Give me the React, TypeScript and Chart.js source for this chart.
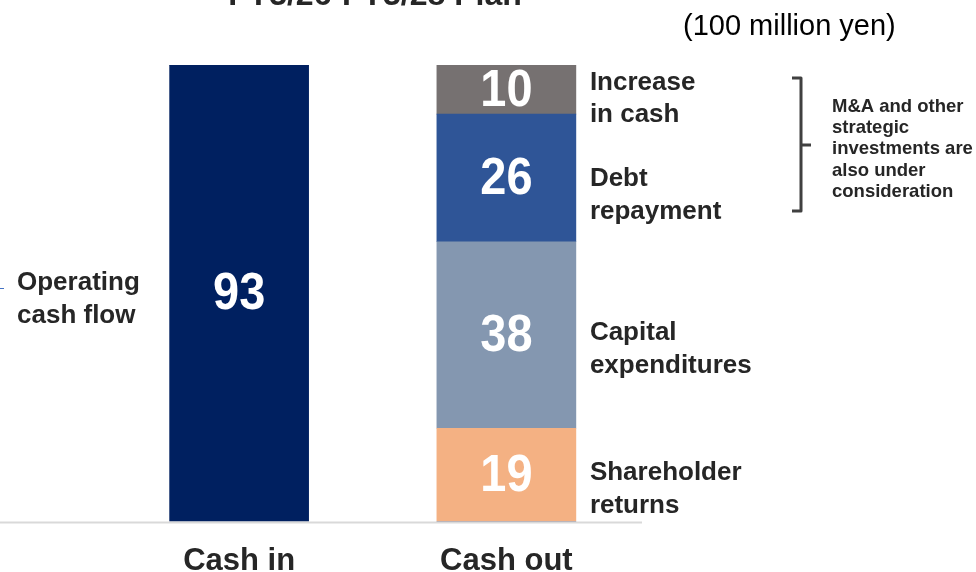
import React, { useEffect, useRef } from "react";
import { Chart, registerables } from "chart.js";

Chart.register(...registerables);

const categories = ["Cash in", "Cash out"];
const operatingCashFlow = [93, 0];
const shareholderReturns = [0, 19];
const capitalExpenditures = [0, 38];
const debtRepayment = [0, 26];
const increaseInCash = [0, 10];

const seriesNames = ["Operating cash flow", "Shareholder returns", "Capital expenditures", "Debt repayment", "Increase in cash"];
const segmentLabelLines = [
  ["Operating", "cash flow"],
  ["Shareholder", "returns"],
  ["Capital", "expenditures"],
  ["Debt", "repayment"],
  ["Increase", "in cash"],
];
const titleText = "FY3/26-FY3/28 Plan";
const unitText = "(100 million yen)";
const noteLines = ["M&A and other", "strategic", "investments are", "also under", "consideration"];

const COLORS = ["#002060", "#f4b183", "#8497b0", "#2f5597", "#767171"];
const TEXT = "#262626";
const LABEL_OFFSETS = [6, 14, 14, 17, 9];

const overlayPlugin = {
  id: "overlay",
  afterDatasetsDraw(chart: any) {
    const ctx = chart.ctx as CanvasRenderingContext2D;
    const ys = chart.scales.y;
    const y0 = ys.getPixelForValue(0);
    ctx.save();
    // baseline
    ctx.strokeStyle = "#d9d9d9";
    ctx.lineWidth = 2;
    ctx.beginPath();
    ctx.moveTo(0, y0 + 1);
    ctx.lineTo(642, y0 + 1);
    ctx.stroke();

    // small arrow remnant
    ctx.strokeStyle = "#4472c4";
    ctx.lineWidth = 1;
    ctx.beginPath();
    ctx.moveTo(0, 288.5);
    ctx.lineTo(4, 288.5);
    ctx.stroke();

    chart.data.datasets.forEach((ds: any, di: number) => {
      const meta = chart.getDatasetMeta(di);
      ds.data.forEach((v: number, i: number) => {
        if (!v) return;
        const bar = meta.data[i] as any;
        const cy = (bar.y + bar.base) / 2;
        // value label
        ctx.save();
        ctx.fillStyle = "#ffffff";
        ctx.font = "bold 51px 'Liberation Sans', Arial, sans-serif";
        ctx.textAlign = "center";
        ctx.textBaseline = "middle";
        ctx.translate(bar.x, cy + 2);
        ctx.scale(0.92, 1);
        ctx.fillText(String(v), 0, 0);
        ctx.restore();
        // segment label
        const lines = segmentLabelLines[di];
        ctx.fillStyle = TEXT;
        ctx.font = "bold 26px 'Liberation Sans', Arial, sans-serif";
        ctx.textBaseline = "middle";
        ctx.textAlign = "left";
        const ly = cy + LABEL_OFFSETS[di];
        const lx = di === 0 ? 17 : bar.x + bar.width / 2 + 14;
        lines.forEach((t, k) => ctx.fillText(t, lx, ly - 16 + k * 32.5));
      });
    });

    // title (cut at top)
    ctx.fillStyle = TEXT;
    ctx.font = "bold 32px 'Liberation Sans', Arial, sans-serif";
    ctx.textAlign = "center";
    ctx.textBaseline = "alphabetic";
    ctx.fillText(titleText, 375, 5);

    // unit
    ctx.fillStyle = "#000000";
    ctx.font = "29px 'Liberation Sans', Arial, sans-serif";
    ctx.textAlign = "left";
    ctx.textBaseline = "middle";
    ctx.fillText(unitText, 683, 27);

    // bracket
    ctx.strokeStyle = "#404040";
    ctx.lineWidth = 3;
    ctx.lineJoin = "round";
    ctx.beginPath();
    ctx.moveTo(792, 78);
    ctx.lineTo(801, 78);
    ctx.lineTo(801, 211);
    ctx.lineTo(792, 211);
    ctx.moveTo(801, 145);
    ctx.lineTo(811, 145);
    ctx.stroke();

    // note
    ctx.fillStyle = TEXT;
    ctx.font = "bold 18.5px 'Liberation Sans', Arial, sans-serif";
    ctx.textAlign = "left";
    ctx.textBaseline = "middle";
    noteLines.forEach((t, k) => ctx.fillText(t, 832, 107 + k * 21.2));
    ctx.restore();
  },
};

export default function App() {
  const ref = useRef<HTMLCanvasElement>(null);
  useEffect(() => {
    if (!ref.current) return;
    const seriesValues = [operatingCashFlow, shareholderReturns, capitalExpenditures, debtRepayment, increaseInCash];
    const chart = new Chart(ref.current, {
      type: "bar",
      data: {
        labels: categories,
        datasets: seriesValues.map((vals, i) => ({
          label: seriesNames[i],
          data: vals,
          backgroundColor: COLORS[i],
          borderWidth: 0,
          barThickness: 139,
        })),
      },
      options: {
        animation: false,
        responsive: false,
        maintainAspectRatio: false,
        layout: { padding: { top: 65, left: 105.5, right: 336, bottom: -29 } },
        plugins: { legend: { display: false }, tooltip: { enabled: false }, title: { display: false } },
        scales: {
          x: {
            stacked: true,
            grid: { display: false, drawTicks: false },
            border: { display: false },
            ticks: {
              color: TEXT,
              padding: 25,
              font: { family: "'Liberation Sans', Arial, sans-serif", size: 31, weight: "bold", lineHeight: 0.95 },
            },
          },
          y: { stacked: true, display: false, min: 0, max: 93 },
        },
      },
      plugins: [overlayPlugin],
    });
    return () => chart.destroy();
  }, []);
  return (
    <div style={{ position: "absolute", left: 0, top: 0, width: 976, height: 572, background: "#fff" }}>
      <canvas ref={ref} width={976} height={572} style={{ display: "block" }} />
    </div>
  );
}
